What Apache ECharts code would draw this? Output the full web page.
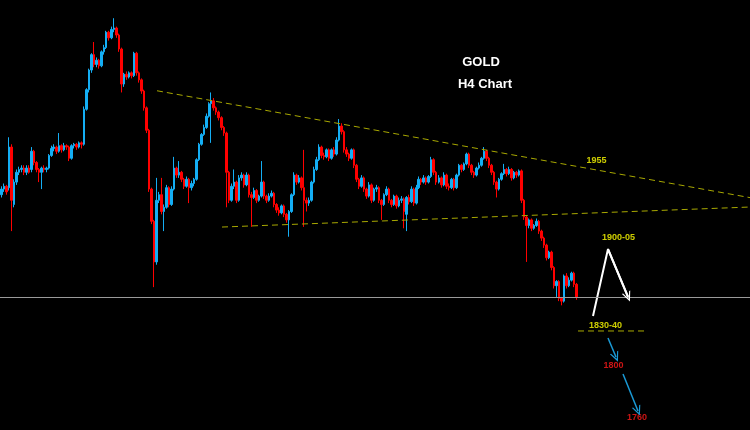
<!DOCTYPE html>
<html>
<head>
<meta charset="utf-8">
<script src="https://cdn.jsdelivr.net/npm/echarts@6/dist/echarts.min.js"></script>
<style>
html,body{margin:0;padding:0;background:#000;}
#chart{width:750px;height:430px;}
</style>
</head>
<body>
<div id="chart"></div>
<script>
// H4 bar slots (category axis). Candles occupy the first slots, the rest is open space for the projection.
const slotCount = 300;
const categories = Array.from({length: slotCount}, (_, i) => 'H4-' + i);

// Candles: [open, close, low, high]
const candles = [
[1930,1934,1928,1936],[1934,1936,1932,1938],[1936,1932,1930,1937],[1935,1964,1933,1971],[1964,1926,1904,1966],
[1923,1939,1921,1941],[1939,1946,1937,1948],[1946,1948,1944,1950],[1948,1949,1946,1951],[1949,1946,1944,1951],
[1946,1949,1944,1951],[1949,1946,1945,1951],[1948,1961,1946,1964],[1961,1953,1951,1962],[1953,1948,1946,1954],
[1948,1946,1939,1949],[1946,1949,1934,1950],[1949,1948,1946,1951],[1948,1949,1946,1950],[1949,1958,1948,1959],
[1958,1963,1957,1965],[1963,1964,1961,1966],[1964,1961,1959,1965],[1961,1965,1960,1974],[1965,1962,1960,1966],
[1962,1965,1961,1967],[1965,1964,1962,1966],[1964,1956,1954,1965],[1956,1965,1955,1966],[1965,1966,1963,1967],
[1966,1964,1962,1967],[1964,1967,1963,1968],[1967,1966,1963,1968],[1966,1991,1965,1993],[1991,2005,1990,2006],
[2005,2019,2003,2020],[2019,2030,2017,2031],[2030,2023,2021,2039],[2023,2026,2021,2028],[2026,2022,2020,2027],
[2022,2032,2021,2033],[2032,2035,2030,2037],[2035,2046,2034,2047],[2046,2042,2040,2047],[2042,2048,2041,2050],
[2048,2049,2046,2056],[2049,2044,2042,2050],[2044,2034,2032,2045],[2034,2009,2003,2035],[2009,2016,2007,2017],
[2016,2014,2012,2018],[2014,2017,2013,2018],[2017,2015,2013,2018],[2015,2031,2014,2032],[2031,2017,2015,2032],
[2017,2012,2010,2018],[2012,2004,2002,2013],[2004,1992,1990,2005],[1992,1976,1974,1993],[1976,1934,1932,1977],
[1934,1911,1909,1935],[1911,1882,1864,1912],[1882,1926,1880,1942],[1926,1930,1924,1932],[1930,1918,1916,1942],
[1918,1921,1904,1923],[1921,1935,1920,1937],[1935,1923,1921,1936],[1923,1934,1922,1936],[1934,1949,1933,1957],
[1949,1944,1942,1950],[1944,1946,1942,1954],[1946,1941,1939,1947],[1941,1936,1934,1942],[1936,1941,1935,1943],
[1941,1935,1924,1942],[1935,1938,1933,1940],[1938,1941,1936,1942],[1941,1955,1940,1956],[1955,1966,1954,1967],
[1966,1973,1965,1974],[1973,1978,1972,1980],[1978,1986,1977,1988],[1986,1995,1985,1996],[1995,1997,1967,2003],
[1997,1992,1990,1999],[1992,1989,1987,1993],[1989,1985,1983,1990],[1985,1978,1976,1986],[1978,1974,1972,1979],
[1974,1946,1921,1975],[1946,1926,1924,1947],[1926,1936,1925,1938],[1936,1939,1934,1948],[1939,1926,1924,1940],
[1926,1942,1925,1944],[1942,1944,1940,1946],[1944,1937,1935,1945],[1937,1944,1936,1946],[1944,1930,1928,1945],
[1930,1928,1907,1932],[1928,1933,1927,1935],[1933,1926,1924,1934],[1926,1929,1925,1930],[1929,1939,1928,1954],
[1939,1929,1927,1940],[1929,1926,1924,1930],[1926,1929,1925,1931],[1929,1931,1928,1933],[1931,1923,1921,1932],
[1923,1919,1917,1924],[1919,1917,1915,1921],[1917,1922,1916,1923],[1922,1916,1914,1923],[1916,1912,1910,1917],
[1912,1918,1900,1919],[1918,1930,1917,1931],[1930,1944,1929,1946],[1944,1939,1937,1945],[1939,1942,1938,1944],
[1942,1935,1933,1943],[1935,1926,1907,1962],[1926,1924,1918,1928],[1924,1926,1922,1928],[1926,1939,1925,1940],
[1939,1948,1938,1950],[1948,1955,1947,1957],[1955,1964,1954,1966],[1964,1958,1956,1965],[1958,1957,1955,1960],
[1957,1962,1956,1963],[1962,1956,1954,1963],[1956,1962,1955,1963],[1962,1959,1957,1964],[1959,1969,1958,1971],
[1969,1979,1968,1984],[1979,1975,1973,1981],[1975,1962,1960,1976],[1962,1959,1957,1964],[1959,1956,1954,1960],
[1956,1962,1955,1963],[1962,1951,1949,1963],[1951,1941,1939,1952],[1941,1936,1934,1942],[1936,1942,1935,1944],
[1942,1934,1932,1943],[1934,1929,1927,1935],[1929,1937,1928,1939],[1937,1926,1924,1938],[1926,1934,1925,1935],
[1934,1935,1932,1937],[1935,1926,1924,1936],[1926,1923,1912,1927],[1923,1930,1922,1931],[1930,1934,1929,1936],
[1934,1926,1924,1935],[1926,1923,1921,1927],[1923,1929,1922,1930],[1929,1922,1920,1930],[1922,1926,1921,1928],
[1926,1927,1924,1929],[1927,1918,1906,1928],[1916,1928,1904,1929],[1928,1925,1923,1930],[1925,1934,1924,1936],
[1934,1924,1922,1935],[1924,1935,1923,1937],[1935,1941,1934,1943],[1941,1939,1937,1942],[1939,1942,1938,1944],
[1942,1939,1937,1943],[1939,1943,1938,1944],[1943,1955,1942,1957],[1955,1946,1944,1956],[1946,1939,1937,1947],
[1939,1942,1938,1944],[1942,1937,1935,1943],[1937,1944,1936,1946],[1944,1936,1934,1945],[1936,1935,1933,1938],
[1935,1941,1934,1942],[1941,1935,1933,1942],[1935,1944,1934,1945],[1944,1951,1943,1952],[1951,1948,1946,1952],
[1948,1952,1947,1953],[1952,1959,1951,1960],[1959,1951,1949,1960],[1951,1946,1944,1952],[1946,1944,1942,1947],
[1944,1949,1943,1950],[1949,1951,1948,1953],[1951,1956,1950,1957],[1956,1961,1955,1964],[1961,1956,1954,1962],
[1956,1951,1949,1957],[1951,1946,1944,1952],[1946,1939,1937,1947],[1939,1934,1928,1940],[1934,1941,1933,1942],
[1941,1945,1940,1946],[1945,1948,1944,1952],[1948,1945,1943,1949],[1945,1948,1944,1950],[1948,1942,1940,1949],
[1942,1946,1941,1947],[1946,1944,1942,1947],[1944,1947,1943,1948],[1947,1926,1924,1948],[1926,1914,1912,1927],
[1914,1908,1882,1915],[1908,1912,1906,1913],[1912,1906,1904,1913],[1906,1908,1905,1909],[1908,1911,1907,1913],
[1911,1904,1902,1912],[1904,1899,1897,1905],[1899,1894,1892,1900],[1894,1885,1883,1895],[1885,1889,1884,1890],
[1889,1878,1876,1890],[1878,1865,1863,1879],[1865,1868,1857,1869],[1868,1856,1854,1869],[1856,1854,1851,1857],
[1854,1872,1853,1873],[1872,1865,1863,1874],[1865,1869,1864,1871],[1869,1874,1868,1875],[1874,1866,1864,1875],
[1866,1857,1855,1867]
];

// Current price line
const currentPrice = 1857;

// Annotation geometry in [bar slot, price]
const upperTrend = [[62.8, 2004.2], [300, 1927.9]];
const lowerTrend = [[88.8, 1906.9], [300, 1921.2]];
const supportDash = [[231.2, 1832.7], [258, 1832.7]];
const whiteArrowPath = [[237.2, 1843.4], [243.2, 1891.2], [251.2, 1857.0]];
const blueArrow1 = [[243.2, 1827.7], [246.4, 1814.1]];
const blueArrow2 = [[249.2, 1802.0], [255.2, 1775.6]];

// Price labels
const labelNames = ['1955', '1900-05', '1830-40', '1800', '1760'];
const labelPos = [[238.6, 1954.4], [247.4, 1899.1], [242.2, 1836.3], [245.4, 1807.7], [254.8, 1770.6]];
const labelColors = ['#ffff00', '#ffff00', '#ffff00', '#ff1a1a', '#ff1a1a'];

const UP = '#14aef4', DOWN = '#ff0000';
const TREND = '#a8a800';
const chevron = 'path://M0,12 L6,0 L12,12 L10.4,12 L6,3.6 L1.6,12 Z';

const chart = echarts.init(document.getElementById('chart'), null, {renderer: 'canvas'});

function arrowSeg(a, b, color, width, head) {
  const ls = {color: color, width: width, type: 'solid', opacity: 1};
  return [
    {coord: a, symbol: 'none', lineStyle: ls},
    {coord: b, symbol: head ? chevron : 'none', symbolSize: [9, 10], lineStyle: ls}
  ];
}

chart.setOption({
  animation: false,
  backgroundColor: '#000000',
  grid: {left: 0, right: 0, top: 0, bottom: 0},
  xAxis: [
    {type: 'category', data: categories, show: false, boundaryGap: true},
    {type: 'value', min: 0, max: slotCount, show: false}
  ],
  yAxis: {type: 'value', min: 1762, max: 2069, show: false, splitLine: {show: false}},
  graphic: [
    {type: 'text', style: {text: 'GOLD', x: 481, y: 62, align: 'center', verticalAlign: 'middle', fill: '#ffffff', font: 'bold 13px "Liberation Sans", Arial, sans-serif'}},
    {type: 'text', style: {text: 'H4 Chart', x: 485, y: 84, align: 'center', verticalAlign: 'middle', fill: '#ffffff', font: 'bold 13px "Liberation Sans", Arial, sans-serif'}}
  ],
  series: [
    {
      type: 'candlestick',
      xAxisIndex: 0,
      data: candles,
      barWidth: 2,
      itemStyle: {color: UP, color0: DOWN, borderColor: UP, borderColor0: DOWN, borderColorDoji: UP, borderWidth: 1},
      markLine: {
        silent: true,
        symbol: ['none', 'none'],
        label: {show: false},
        lineStyle: {color: '#9a9a9a', width: 1, type: 'solid'},
        data: [{yAxis: currentPrice}]
      }
    },
    {
      type: 'line', xAxisIndex: 1, data: upperTrend, symbol: 'none', silent: true,
      lineStyle: {color: TREND, width: 1, type: [6, 4]}
    },
    {
      type: 'line', xAxisIndex: 1, data: lowerTrend, symbol: 'none', silent: true,
      lineStyle: {color: TREND, width: 1, type: [6, 4]}
    },
    {
      type: 'line', xAxisIndex: 1, data: supportDash, symbol: 'none', silent: true,
      lineStyle: {color: TREND, width: 1, type: [6, 4]}
    },
    {
      type: 'line', xAxisIndex: 1, data: whiteArrowPath, symbol: 'none', silent: true,
      lineStyle: {color: '#ffffff', width: 2},
      markLine: {
        silent: true,
        symbol: ['none', 'none'],
        label: {show: false},
        data: [
          arrowSeg(whiteArrowPath[1], whiteArrowPath[2], '#ffffff', 2, true),
          arrowSeg(blueArrow1[0], blueArrow1[1], '#1a9ad6', 1.5, true),
          arrowSeg(blueArrow2[0], blueArrow2[1], '#1a9ad6', 1.5, true)
        ]
      }
    },
    {
      type: 'scatter', xAxisIndex: 1, silent: true,
      symbolSize: 1,
      itemStyle: {color: 'rgba(0,0,0,0)'},
      label: {show: true, position: 'inside', formatter: '{b}', fontSize: 9, fontWeight: 'bold', fontFamily: '"Liberation Sans", Arial, sans-serif'},
      data: labelNames.map((n, i) => ({name: n, value: labelPos[i], label: {color: labelColors[i]}}))
    }
  ]
});
</script>
</body>
</html>
